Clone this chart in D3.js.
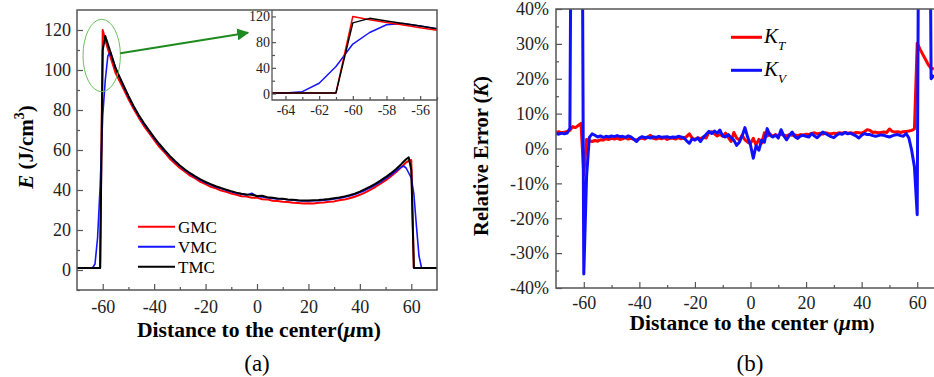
<!DOCTYPE html>
<html>
<head>
<meta charset="utf-8">
<script src="https://cdnjs.cloudflare.com/ajax/libs/d3/7.8.5/d3.min.js"></script>
<style>
body { margin: 0; background: #fff; }
svg { display: block; font-family: "Liberation Serif", "Times New Roman", serif; }
.axis line { stroke: #555; stroke-width: 1.2; }
.axis path { display: none; }
</style>
</head>
<body>
<svg id="fig" width="934" height="377"></svg>
<script>
// ---------- panel (a): energy deposition ----------
var posA = [-70,-65,-64,-63,-62,-61,-60,-59,-58,-57,-56,-55,
  -54,-52,-50,-48,-46,-44,-42,-40,-38,-36,-34,-32,-30,-28,-26,-24,-22,-20,-18,-16,-14,-12,-10,-8,-6,-4,-2,
  0,2,4,6,8,10,12,14,16,18,20,22,24,26,28,30,32,34,36,38,40,42,44,46,48,50,52,54,56,
  57,58,59,60,61,62,63,64,65,70];
var gmc = [1,1,1,1,1,1,120,115,110.5,106.5,102.5,98.5,
  96,90.8,85.5,80.6,76.2,72.1,68.6,65.1,61.6,58.9,55.8,53.4,51,49.1,47.2,45.8,44.1,42.9,41.6,40.8,
  39.7,39.1,38.2,37.6,36.9,36.7,36.1,36.2,35.4,35.3,34.6,34.5,34.1,34,33.6,33.5,33.3,33.4,33.3,33.6,
  33.7,34.1,34.3,34.9,35.2,35.9,36.6,37.6,38.7,40.1,41.5,43.2,44.8,46.8,48.9,51.3,
  52.5,53.8,54.5,55,1,1,1,1,1,1];
var vmc = [1,1,1,3,16,42,77,95,107,109,105,101,
  98,92.2,86.8,81.6,77.2,73,69.5,65.9,62.6,59.5,56.9,54.2,52,49.8,48.1,46.4,45,43.6,42.6,41.5,
  40.7,39.9,39.1,38.4,37.9,37.5,38.4,36.8,36.5,36.2,35.8,35.5,35.5,35.1,34.9,34.7,34.5,34.5,34.6,34.7,
  34.9,35.2,35.5,35.9,36.4,37,37.8,38.7,39.8,41.1,42.5,44,45.7,47.5,49.5,51.3,
  52,51,48.5,46,38,22,7,1,1,1];
var tmc = [1,1,1,1,1,1,110,117,113,109,105,101,
  98,92.5,87,82,77.5,73.5,69.8,66.3,63,60,57.2,54.6,52.3,50.2,48.4,46.8,45.3,44,42.9,41.9,
  41,40.2,39.4,38.7,38.1,37.8,37.6,37.0,37.1,36.4,36.1,35.8,35.6,35.3,35.1,34.9,34.8,34.8,34.9,35,
  35.2,35.5,35.9,36.3,36.8,37.4,38.2,39.2,40.4,41.7,43.1,44.7,46.4,48.3,50.4,52.8,
  54.1,55.4,56.3,50,1,1,1,1,1,1];
var seriesA = ["GMC", "VMC", "TMC"];
var xTicksA = [-60,-40,-20,0,20,40,60];
var yTicksA = [0,20,40,60,80,100,120];
var insetXTicks = [-64,-62,-60,-58,-56];
var insetYTicks = [0,40,80,120];

// ---------- panel (b): relative error ----------
var posB = [-70,-69,-68,-67,-66,-65,-64,-63,-62,-61,-60,-59,-58,-57,-56,-55,-54,-53,-52,-51,
  -50,-49,-48,-47,-46,-45,-44,-43,-42,-41,-40,-39,-38,-37,-36,-35,-34,-33,-32,-31,
  -30,-29,-28,-27,-26,-25,-24,-23,-22,-21,-20,-19,-18,-17,-16,-15,-14,-13,-12,-11,
  -10,-9,-8,-7,-6,-5,-4,-3,-2,-1,0,1,2,3,4,5,6,7,8,9,
  10,11,12,13,14,15,16,17,18,19,20,21,22,23,24,25,26,27,28,29,
  30,31,32,33,34,35,36,37,38,39,40,41,42,43,44,45,46,47,48,49,
  50,51,52,53,54,55,56,57,58,59,60,61,62,63,64,65,66];
var kT = [4.6,4.8,4.5,4.7,4.9,5.2,6.3,6.0,6.6,7.2,-7.5,2.6,2.2,2.0,2.3,2.1,2.5,2.4,2.8,2.6,
  2.9,2.7,3.0,2.6,2.8,3.1,2.7,2.9,2.6,2.4,2.8,3.0,2.7,3.2,3.8,2.9,2.7,3.0,2.8,3.1,
  2.6,2.9,3.0,2.7,3.1,2.8,3.0,3.4,4.2,3.0,2.6,3.1,2.8,3.3,3.0,4.6,4.8,4.2,3.6,4.1,
  3.5,4.4,3.2,2.0,4.6,3.0,2.4,3.8,2.5,1.8,1.5,2.9,1.0,2.6,1.5,4.5,3.6,4.2,3.5,4.0,
  3.7,4.1,3.8,3.6,4.0,3.8,3.9,3.7,4.0,3.8,4.1,4.0,4.3,4.5,4.2,4.4,4.1,4.5,4.3,4.2,
  4.4,4.3,4.5,4.4,4.6,4.4,4.5,4.3,4.6,4.5,4.4,4.8,5.4,5.2,4.6,4.7,4.5,4.6,4.7,4.6,
  5.6,4.9,4.7,4.8,4.6,4.8,4.9,5.0,5.2,5.6,30.2,28.5,27.0,25.5,24.0,23.0,22.8];
var kV = [4.3,4.1,4.4,4.2,4.4,5.8,150,150,150,150,-36,-8,3.2,4.2,3.8,3.3,3.6,3.2,3.5,3.3,
  3.6,3.4,3.7,3.4,3.5,3.2,3.6,3.3,2.7,2.0,3.0,3.4,3.1,3.3,3.0,3.4,3.2,3.5,3.2,3.3,
  3.4,3.1,3.3,3.2,3.5,3.3,3.1,2.2,1.5,2.8,2.4,3.0,2.0,3.2,4.0,4.9,4.3,5.0,4.4,5.3,
  3.6,3.3,4.0,3.1,2.4,0.9,1.8,3.6,6.0,3.2,1.0,-2.8,0.8,-0.5,2.4,1.8,5.7,3.8,3.3,3.8,
  3.0,5.4,3.6,2.5,3.8,4.7,3.4,2.9,3.6,3.8,3.5,3.3,4.3,3.6,3.1,3.9,4.7,4.3,3.8,3.4,
  3.1,3.8,4.3,4.1,4.6,4.2,4.4,4.0,3.6,3.0,3.8,4.3,4.0,4.0,3.7,3.5,3.7,3.9,3.8,3.5,
  3.3,3.6,3.9,4.0,3.7,3.5,4.3,3.0,-0.5,-5.3,-19,150,150,150,150,20,21];
var xTicksB = [-60,-40,-20,0,20,40,60];
var yTicksB = [-40,-30,-20,-10,0,10,20,30,40];

var svg = d3.select("#fig");
var gray = "#555";
var serif = "'Liberation Serif', 'Times New Roman', serif";

function drawLine(g, xs, ys, x, y, color, width) {
  var line = d3.line().x(function(d, i) { return x(xs[i]); }).y(function(d) { return y(d); });
  g.append("path").datum(ys)
    .attr("d", line)
    .attr("fill", "none")
    .attr("stroke", color)
    .attr("stroke-width", width)
    .attr("stroke-linejoin", "round");
}

// major ticks pointing into the plot, hyphen minus like the original
function majorAxis(g, axis, size, pad, fmt) {
  var a = g.append("g").attr("class", "axis")
    .call(axis.tickSize(-6).tickPadding(pad).tickFormat(fmt || function(d) { return String(d); }));
  a.attr("font-family", serif);
  a.selectAll("text").style("font-family", serif).style("font-size", size + "px").attr("fill", "#222");
}

function minorTicks(g, axis, values) {
  g.append("g").attr("class", "axis").call(axis.tickValues(values).tickFormat("").tickSize(-3));
}

// ===== panel (a) =====
var xA = d3.scaleLinear().domain([-70, 70]).range([77, 437]);
var yA = d3.scaleLinear().domain([-10, 130]).range([290, 10]);

var gA = svg.append("g");
gA.append("clipPath").attr("id", "clipA").append("rect")
  .attr("x", 77).attr("y", 10).attr("width", 360).attr("height", 280);

var axA = gA.append("g").attr("transform", "translate(0,290)");
majorAxis(axA, d3.axisBottom(xA).tickValues(xTicksA), 18, 10);
minorTicks(axA, d3.axisBottom(xA), [-50,-30,-10,10,30,50]);

var ayA = gA.append("g").attr("transform", "translate(77,0)");
majorAxis(ayA, d3.axisLeft(yA).tickValues(yTicksA), 18, 6);
minorTicks(ayA, d3.axisLeft(yA), [-10,10,30,50,70,90,110]);

var plotA = gA.append("g").attr("clip-path", "url(#clipA)");
drawLine(plotA, posA, gmc, xA, yA, "#ff0000", 2);
drawLine(plotA, posA, vmc, xA, yA, "#1515ff", 1.6);
drawLine(plotA, posA, tmc, xA, yA, "#000", 2);

// legend (a)
var colA = ["#ff0000", "#1515ff", "#000"];
seriesA.forEach(function(name, i) {
  var ly = 226.7 + i * 20;
  gA.append("line").attr("x1", 138).attr("x2", 175).attr("y1", ly).attr("y2", ly)
    .attr("stroke", colA[i]).attr("stroke-width", 2);
  gA.append("text").attr("x", 178).attr("y", ly + 6).style("font-size", "17px").text(name);
});

// ellipse and arrow
gA.append("ellipse").attr("cx", 101.7).attr("cy", 55.5).attr("rx", 18.7).attr("ry", 36.2)
  .attr("fill", "none").attr("stroke", "#6cbf5c").attr("stroke-width", 1);
svg.append("defs").append("marker").attr("id", "arr")
  .attr("viewBox", "0 0 10 10").attr("refX", 9).attr("refY", 5)
  .attr("markerWidth", 6).attr("markerHeight", 6).attr("markerUnits", "strokeWidth")
  .attr("orient", "auto")
  .append("path").attr("d", "M0,0 L10,5 L0,10 z").attr("fill", "#1f8a1f");
gA.append("line").attr("x1", 120.3).attr("y1", 53.3).attr("x2", 248).attr("y2", 32.7)
  .attr("stroke", "#1f8a1f").attr("stroke-width", 2).attr("marker-end", "url(#arr)");

// inset
var xI = d3.scaleLinear().domain([-64.8, -55]).range([272, 437]);
var yI = d3.scaleLinear().domain([-10, 130]).range([100, 10]);
var gI = gA.append("g");
gI.append("clipPath").attr("id", "clipI").append("rect")
  .attr("x", 272).attr("y", 10).attr("width", 165).attr("height", 90);
gI.append("rect").attr("x", 272).attr("y", 10).attr("width", 165).attr("height", 90).attr("fill", "#fff");
var plotI = gI.append("g").attr("clip-path", "url(#clipI)");
drawLine(plotI, posA, vmc, xI, yI, "#1515ff", 1.5);
drawLine(plotI, posA, gmc, xI, yI, "#ff0000", 1.5);
drawLine(plotI, posA, tmc, xI, yI, "#000", 1.5);
var axI = gI.append("g").attr("transform", "translate(0,100)");
axI.append("g").attr("class", "axis")
  .call(d3.axisBottom(xI).tickValues(insetXTicks).tickSize(-4).tickPadding(5).tickFormat(String))
  .selectAll("text").style("font-family", serif).style("font-size", "14px").attr("fill", "#222");
minorTicks(axI, d3.axisBottom(xI), [-63,-61,-59,-57,-55]);
var ayI = gI.append("g").attr("transform", "translate(272,0)");
ayI.append("g").attr("class", "axis")
  .call(d3.axisLeft(yI).tickValues(insetYTicks).tickSize(-4).tickPadding(2).tickFormat(String))
  .selectAll("text").style("font-family", serif).style("font-size", "14px").attr("fill", "#222");
minorTicks(ayI, d3.axisLeft(yI), [20,60,100]);
gI.append("path").attr("d", "M272,10 V100 H437")
  .attr("fill", "none").attr("stroke", gray).attr("stroke-width", 1.3);
gA.append("rect").attr("x", 77).attr("y", 10).attr("width", 360).attr("height", 280)
  .attr("fill", "none").attr("stroke", gray).attr("stroke-width", 1.5);

// axis titles (a)
var tyA = gA.append("text").attr("transform", "translate(33,147) rotate(-90)")
  .attr("text-anchor", "middle").style("font-size", "21px").style("font-weight", "bold");
tyA.append("tspan").style("font-style", "italic").text("E");
tyA.append("tspan").text(" (J/cm");
tyA.append("tspan").attr("dy", -9).style("font-size", "14px").text("3");
tyA.append("tspan").attr("dy", 9).text(")");

var txA = gA.append("text").attr("x", 259).attr("y", 337)
  .attr("text-anchor", "middle").style("font-size", "21.6px").style("font-weight", "bold");
txA.append("tspan").text("Distance to the center(");
txA.append("tspan").style("font-style", "italic").text("\u03bc");
txA.append("tspan").text("m)");

gA.append("text").attr("x", 257).attr("y", 371).attr("text-anchor", "middle")
  .style("font-size", "23px").text("(a)");

// ===== panel (b) =====
var xB = d3.scaleLinear().domain([-70, 70]).range([556, 945]);
var yB = d3.scaleLinear().domain([-40, 40]).range([288, 9]);
var gB = svg.append("g");
gB.append("clipPath").attr("id", "clipB").append("rect")
  .attr("x", 556).attr("y", 9).attr("width", 389).attr("height", 279);

var axB = gB.append("g").attr("transform", "translate(0,288)");
majorAxis(axB, d3.axisBottom(xB).tickValues(xTicksB), 18, 8);
minorTicks(axB, d3.axisBottom(xB), [-50,-30,-10,10,30,50]);

var ayB = gB.append("g").attr("transform", "translate(556,0)");
majorAxis(ayB, d3.axisLeft(yB).tickValues(yTicksB), 18, 7, function(d) { return d + "%"; });
minorTicks(ayB, d3.axisLeft(yB), [-35,-25,-15,-5,5,15,25,35]);

var plotB = gB.append("g").attr("clip-path", "url(#clipB)");
drawLine(plotB, posB, kT, xB, yB, "#ff0000", 3);
drawLine(plotB, posB, kV, xB, yB, "#1010ff", 3);

gB.append("rect").attr("x", 556).attr("y", 9).attr("width", 389).attr("height", 279)
  .attr("fill", "none").attr("stroke", gray).attr("stroke-width", 1.5);

// legend (b)
var legB = [["T", "#ff0000"], ["V", "#1010ff"]];
legB.forEach(function(d, i) {
  var ly = 37.3 + i * 33;
  gB.append("line").attr("x1", 731).attr("x2", 762).attr("y1", ly).attr("y2", ly)
    .attr("stroke", d[1]).attr("stroke-width", 3);
  var t = gB.append("text").attr("x", 764).attr("y", ly + 6).style("font-size", "21px")
    .style("font-style", "italic");
  t.append("tspan").text("K");
  t.append("tspan").attr("dy", 7).style("font-size", "13px").text(d[0]);
});

// axis titles (b)
var tyB = gB.append("text").attr("transform", "translate(488,156) rotate(-90)")
  .attr("text-anchor", "middle").style("font-size", "20.5px").style("font-weight", "bold");
tyB.append("tspan").text("Relative Error (");
tyB.append("tspan").style("font-style", "italic").text("K");
tyB.append("tspan").text(")");

var txB = gB.append("text").attr("x", 752).attr("y", 330)
  .attr("text-anchor", "middle").style("font-size", "21.5px").style("font-weight", "bold");
txB.append("tspan").text("Distance to the center ");
txB.append("tspan").style("font-size", "17px").text("(");
txB.append("tspan").style("font-style", "italic").text("\u03bc");
txB.append("tspan").text("m");
txB.append("tspan").style("font-size", "17px").text(")");

gB.append("text").attr("x", 750).attr("y", 371).attr("text-anchor", "middle")
  .style("font-size", "23px").text("(b)");
</script>
</body>
</html>
